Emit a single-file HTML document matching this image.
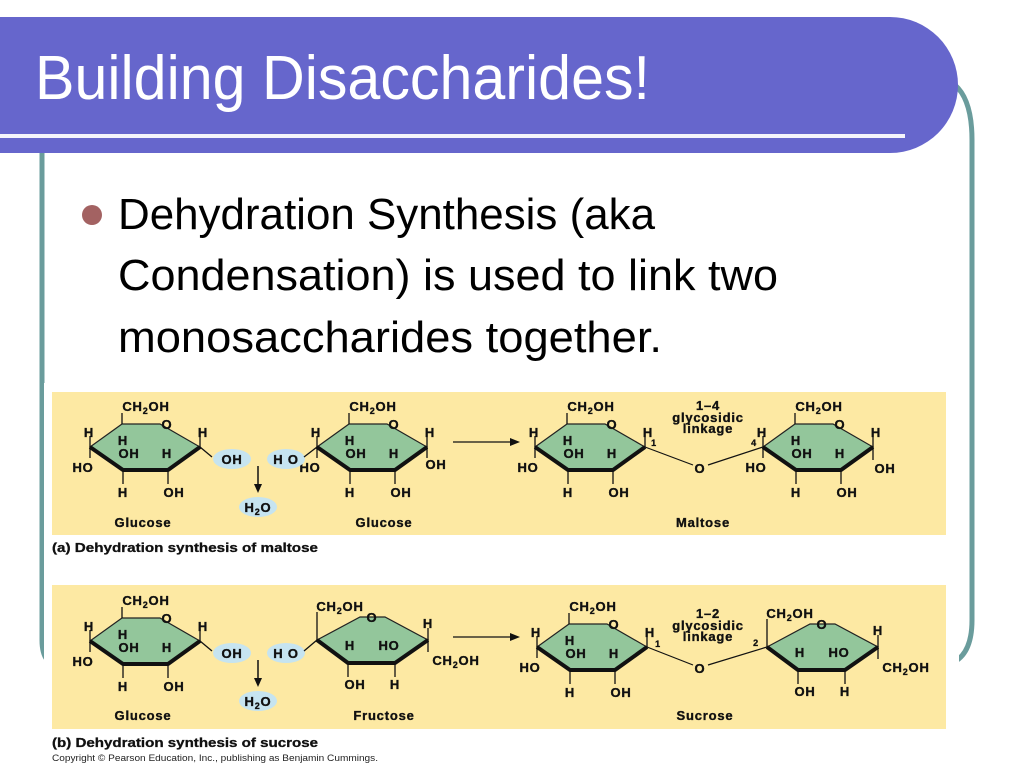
<!DOCTYPE html>
<html><head><meta charset="utf-8"><style>
html,body{margin:0;padding:0;background:#fff;}
svg{display:block;}
.c{font-family:"Liberation Sans",Arial,sans-serif;font-weight:bold;font-size:13px;letter-spacing:0.8px;fill:#111;stroke:#111;stroke-width:0.35px;}
.s{font-size:9px;}
</style></head><body>
<svg width="1024" height="768" viewBox="0 0 1024 768" xmlns="http://www.w3.org/2000/svg">
<defs>
<g id="glu">
  <polygon points="122,424 160,424 200,447 168,470 123,470 90,447" fill="#93c69b" stroke="#222" stroke-width="1.2"/>
  <polyline points="90,447 123,470 168,470 200,447" fill="none" stroke="#111" stroke-width="4" stroke-linejoin="round"/>
  <line x1="122" y1="413" x2="122" y2="424" stroke="#111" stroke-width="1.3"/>
  <line x1="90" y1="436" x2="90" y2="458" stroke="#111" stroke-width="1.3"/>
  <line x1="200" y1="437" x2="200" y2="447" stroke="#111" stroke-width="1.3"/>
  <line x1="123" y1="470" x2="123" y2="484" stroke="#111" stroke-width="1.3"/>
  <line x1="168" y1="470" x2="168" y2="484" stroke="#111" stroke-width="1.3"/>
  <text class="c" x="146" y="411" text-anchor="middle">CH<tspan class="s" dy="3">2</tspan><tspan dy="-3">OH</tspan></text>
  <text class="c" x="167" y="429" text-anchor="middle">O</text>
  <text class="c" x="89" y="437" text-anchor="middle">H</text>
  <text class="c" x="203" y="437" text-anchor="middle">H</text>
  <text class="c" x="123" y="445" text-anchor="middle">H</text>
  <text class="c" x="129" y="458" text-anchor="middle">OH</text>
  <text class="c" x="167" y="458" text-anchor="middle">H</text>
  <text class="c" x="83" y="472" text-anchor="middle">HO</text>
  <text class="c" x="123" y="497" text-anchor="middle">H</text>
  <text class="c" x="174" y="497" text-anchor="middle">OH</text>
</g>
<g id="fru">
  <polygon points="317,640 360,617 385,617 428,640 395,663 348,663" fill="#93c69b" stroke="#222" stroke-width="1.2"/>
  <polyline points="317,640 348,663 395,663 428,640" fill="none" stroke="#111" stroke-width="4" stroke-linejoin="round"/>
  <line x1="317" y1="612" x2="317" y2="640" stroke="#111" stroke-width="1.3"/>
  <line x1="428" y1="628" x2="428" y2="652" stroke="#111" stroke-width="1.3"/>
  <line x1="348" y1="663" x2="348" y2="677" stroke="#111" stroke-width="1.3"/>
  <line x1="395" y1="663" x2="395" y2="677" stroke="#111" stroke-width="1.3"/>
  <text class="c" x="340" y="611" text-anchor="middle">CH<tspan class="s" dy="3">2</tspan><tspan dy="-3">OH</tspan></text>
  <text class="c" x="372" y="622" text-anchor="middle">O</text>
  <text class="c" x="428" y="628" text-anchor="middle">H</text>
  <text class="c" x="350" y="650" text-anchor="middle">H</text>
  <text class="c" x="389" y="650" text-anchor="middle">HO</text>
  <text class="c" x="456" y="665" text-anchor="middle">CH<tspan class="s" dy="3">2</tspan><tspan dy="-3">OH</tspan></text>
  <text class="c" x="355" y="689" text-anchor="middle">OH</text>
  <text class="c" x="395" y="689" text-anchor="middle">H</text>
</g>
</defs>

<!-- frame -->
<path d="M42,153 L42,640 Q42,665 60,665 L945,665 Q972,660 972,620 L972,140 Q972,100 955,85" fill="none" stroke="#6a9c9c" stroke-width="5"/>
<!-- title bar -->
<path d="M0,17 L890,17 A68,68 0 0 1 890,153 L0,153 Z" fill="#6666cc"/>
<rect x="0" y="134" width="905" height="4" fill="#f4f4fb"/>
<text x="35" y="99" font-family="Liberation Sans,Arial,sans-serif" font-size="62" fill="#fff" textLength="615" lengthAdjust="spacingAndGlyphs">Building Disaccharides!</text>

<!-- bullet -->
<circle cx="92" cy="215" r="10" fill="#a36262"/>
<g font-family="Liberation Sans,Arial,sans-serif" font-size="44" fill="#000">
<text x="118" y="229" textLength="537" lengthAdjust="spacingAndGlyphs">Dehydration Synthesis (aka</text>
<text x="118" y="290" textLength="660" lengthAdjust="spacingAndGlyphs">Condensation) is used to link two</text>
<text x="118" y="352" textLength="544" lengthAdjust="spacingAndGlyphs">monosaccharides together.</text>
</g>

<!-- image area -->
<rect x="44" y="383" width="915" height="385" fill="#fff"/>
<rect x="52" y="392" width="894" height="143" fill="#fde9a3"/>
<rect x="52" y="585" width="894" height="144" fill="#fde9a3"/>

<!-- (a) -->
<use href="#glu"/>
<ellipse cx="232" cy="459" rx="19" ry="10" fill="#c6e4f0"/>
<line x1="200" y1="447" x2="212" y2="457" stroke="#111" stroke-width="1.3"/>
<text class="c" x="232" y="464" text-anchor="middle">OH</text>
<line x1="258" y1="466" x2="258" y2="486" stroke="#111" stroke-width="1.5"/>
<polygon points="254,484 262,484 258,493" fill="#111"/>
<ellipse cx="258" cy="507" rx="19" ry="10" fill="#c6e4f0"/>
<text class="c" x="258" y="512" text-anchor="middle">H<tspan class="s" dy="3">2</tspan><tspan dy="-3">O</tspan></text>
<text class="c" x="143" y="527" text-anchor="middle">Glucose</text>

<use href="#glu" transform="translate(227,0)"/>
<ellipse cx="286" cy="459" rx="19" ry="10" fill="#c6e4f0"/>
<text class="c" x="286" y="464" text-anchor="middle">H O</text>
<line x1="317" y1="447" x2="304" y2="457" stroke="#111" stroke-width="1.3"/>
<line x1="427" y1="447" x2="427" y2="458" stroke="#111" stroke-width="1.3"/>
<text class="c" x="436" y="469" text-anchor="middle">OH</text>
<text class="c" x="384" y="527" text-anchor="middle">Glucose</text>

<line x1="453" y1="442" x2="512" y2="442" stroke="#111" stroke-width="1.2"/>
<polygon points="510,438 520,442 510,446" fill="#111"/>

<use href="#glu" transform="translate(445,0)"/>
<text class="c s" x="654" y="446" text-anchor="middle">1</text>
<line x1="645" y1="447" x2="693" y2="465" stroke="#111" stroke-width="1.2"/>
<text class="c" x="700" y="473" text-anchor="middle">O</text>
<line x1="708" y1="465" x2="763" y2="447" stroke="#111" stroke-width="1.2"/>
<text class="c" x="708" y="410" text-anchor="middle">1–4</text>
<text class="c" x="708" y="422" text-anchor="middle">glycosidic</text>
<text class="c" x="708" y="433" text-anchor="middle">linkage</text>
<use href="#glu" transform="translate(673,0)"/>
<text class="c s" x="754" y="446" text-anchor="middle">4</text>
<line x1="873" y1="447" x2="873" y2="460" stroke="#111" stroke-width="1.3"/>
<text class="c" x="885" y="473" text-anchor="middle">OH</text>
<text class="c" x="703" y="527" text-anchor="middle">Maltose</text>

<text x="52" y="552" font-family="Liberation Sans,Arial,sans-serif" font-weight="bold" font-size="13" fill="#111" stroke="#111" stroke-width="0.3" textLength="266" lengthAdjust="spacingAndGlyphs">(a) Dehydration synthesis of maltose</text>

<!-- (b) -->
<use href="#glu" transform="translate(0,194)"/>
<ellipse cx="232" cy="653" rx="19" ry="10" fill="#c6e4f0"/>
<line x1="200" y1="641" x2="212" y2="651" stroke="#111" stroke-width="1.3"/>
<text class="c" x="232" y="658" text-anchor="middle">OH</text>
<line x1="258" y1="660" x2="258" y2="680" stroke="#111" stroke-width="1.5"/>
<polygon points="254,678 262,678 258,687" fill="#111"/>
<ellipse cx="258" cy="701" rx="19" ry="10" fill="#c6e4f0"/>
<text class="c" x="258" y="706" text-anchor="middle">H<tspan class="s" dy="3">2</tspan><tspan dy="-3">O</tspan></text>
<text class="c" x="143" y="720" text-anchor="middle">Glucose</text>

<use href="#fru"/>
<ellipse cx="286" cy="653" rx="19" ry="10" fill="#c6e4f0"/>
<text class="c" x="286" y="658" text-anchor="middle">H O</text>
<line x1="317" y1="640" x2="304" y2="651" stroke="#111" stroke-width="1.3"/>
<text class="c" x="384" y="720" text-anchor="middle">Fructose</text>

<line x1="453" y1="637" x2="512" y2="637" stroke="#111" stroke-width="1.2"/>
<polygon points="510,633 520,637 510,641" fill="#111"/>

<use href="#glu" transform="translate(447,200)"/>
<text class="c s" x="658" y="647" text-anchor="middle">1</text>
<line x1="647" y1="647" x2="693" y2="665" stroke="#111" stroke-width="1.2"/>
<text class="c" x="700" y="673" text-anchor="middle">O</text>
<line x1="708" y1="665" x2="767" y2="647" stroke="#111" stroke-width="1.2"/>
<text class="c" x="708" y="618" text-anchor="middle">1–2</text>
<text class="c" x="708" y="630" text-anchor="middle">glycosidic</text>
<text class="c" x="708" y="641" text-anchor="middle">linkage</text>
<use href="#fru" transform="translate(450,7)"/>
<text class="c s" x="756" y="646" text-anchor="middle">2</text>
<text class="c" x="705" y="720" text-anchor="middle">Sucrose</text>

<text x="52" y="747" font-family="Liberation Sans,Arial,sans-serif" font-weight="bold" font-size="13" fill="#111" stroke="#111" stroke-width="0.3" textLength="266" lengthAdjust="spacingAndGlyphs">(b) Dehydration synthesis of sucrose</text>
<text x="52" y="761" font-family="Liberation Sans,Arial,sans-serif" font-size="9" fill="#222" textLength="326" lengthAdjust="spacingAndGlyphs">Copyright © Pearson Education, Inc., publishing as Benjamin Cummings.</text>
</svg>
</body></html>
